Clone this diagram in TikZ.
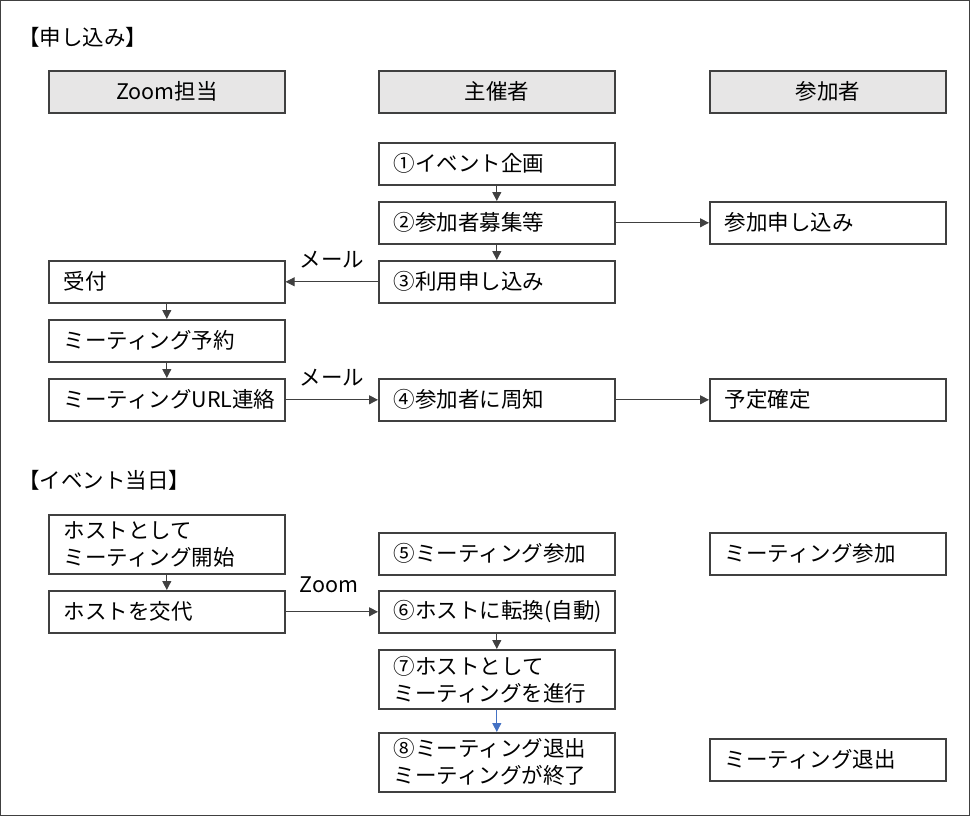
\documentclass[tikz,border=0pt]{standalone}
\usepackage{fontspec}
\setmainfont{Noto Sans CJK JP}
\usetikzlibrary{arrows.meta}
\definecolor{linegray}{HTML}{404040}
\definecolor{headgray}{HTML}{E7E6E6}
\definecolor{flowblue}{HTML}{4472C4}
\tikzset{
	>={Triangle[length=9pt,width=9pt]},
	stepbox/.style={
		rectangle,
		draw=linegray, line width=1.6pt,
		text width=206pt,
		inner xsep=15pt, inner ysep=0pt,
		minimum height=42pt,
		align=left,
		anchor=north west,
		font=\fontsize{21.5}{27}\selectfont},
	tallbox/.style={stepbox, minimum height=59pt},
	headbox/.style={stepbox, fill=headgray, align=center},
	flow/.style={draw=linegray, line width=0.9pt, ->},
	note/.style={inner sep=0pt, font=\fontsize{21.5}{24}\selectfont},
}

\begin{document}
\begin{tikzpicture}[x=1pt, y=-1pt]
	% frame of the whole sheet
	\useasboundingbox (0,0) rectangle (970,816);
	\draw[linegray, line width=1pt] (0.5,0.5) rectangle (969.5,815.5);

	% section titles
	\node[note, anchor=west] (t1) at (18,37) {【申し込み】};
	\node[note, anchor=west] (t2) at (18,480) {【イベント当日】};

	% column heads
	\node[headbox] (hz) at (48,70) {Zoom担当};
	\node[headbox] (hs) at (378,70) {主催者};
	\node[headbox] (hp) at (709,70) {参加者};

	% Zoom column
	\node[stepbox] (z1) at (48,260) {受付};
	\node[stepbox] (z2) at (48,319) {ミーティング予約};
	\node[stepbox] (z3) at (48,378) {ミーティングURL連絡};
	\node[tallbox] (z4) at (48,514) {ホストとして\\ミーティング開始};
	\node[stepbox] (z5) at (48,590) {ホストを交代};

	% organiser column
	\node[stepbox] (s1) at (378,142) {①イベント企画};
	\node[stepbox] (s2) at (378,201) {②参加者募集等};
	\node[stepbox] (s3) at (378,260) {③利用申し込み};
	\node[stepbox] (s4) at (378,378) {④参加者に周知};
	\node[stepbox] (s5) at (378,532) {⑤ミーティング参加};
	\node[stepbox] (s6) at (378,590) {⑥ホストに転換(自動)};
	\node[tallbox] (s7) at (378,649) {⑦ホストとして\\ミーティングを進行};
	\node[tallbox] (s8) at (378,732) {⑧ミーティング退出\\ミーティングが終了};

	% participant column
	\node[stepbox] (p1) at (709,201) {参加申し込み};
	\node[stepbox] (p2) at (709,378) {予定確定};
	\node[stepbox] (p3) at (709,532) {ミーティング参加};
	\node[stepbox] (p4) at (709,738) {ミーティング退出};

	% vertical steps
	\foreach \a/\b in {s1/s2, s2/s3, z1/z2, z2/z3, z4/z5, s6/s7}
		\draw[flow] (\a.south) -- (\b.north);
	\draw[flow, draw=flowblue] (s7.south) -- (s8.north);

	% across the columns
	\draw[flow] (s2.east) -- (p1.west);
	\draw[flow] (s3.west) -- (z1.east);
	\draw[flow] (z3.east) -- (s4.west);
	\draw[flow] (s4.east) -- (p2.west);
	\draw[flow] (z5.east) -- (s6.west);

	% labels on the arrows
	\node[note] (m1) at (332,260) {メール};
	\node[note] (m2) at (332,378) {メール};
	\node[note] (m3) at (329,585) {Zoom};
\end{tikzpicture}
\end{document}
